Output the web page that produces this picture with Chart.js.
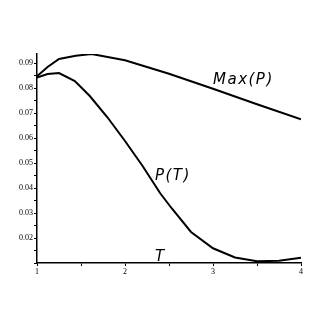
<!DOCTYPE html>
<html><head><meta charset="utf-8">
<script src="https://cdn.jsdelivr.net/npm/chart.js@4/dist/chart.umd.min.js"></script>
<style>html,body{margin:0;padding:0;background:#fff;}canvas{display:block;}</style>
</head><body>
<canvas id="c" width="327" height="327"></canvas>
<script>
const maxT = [1.0, 1.12, 1.25, 1.44, 1.62, 2.0, 2.5, 3.0, 3.5, 4.0];
const maxP = [0.0847, 0.0884, 0.0916, 0.0929, 0.0936, 0.0911, 0.0857, 0.0797, 0.0735, 0.0675];
const pT = [1.0, 1.12, 1.25, 1.43, 1.6, 1.8, 2.0, 2.2, 2.4, 2.53, 2.75, 3.0, 3.25, 3.5, 3.75, 4.0];
const pP = [0.0842, 0.0856, 0.0860, 0.0828, 0.0768, 0.0683, 0.0588, 0.0488, 0.0379, 0.0319, 0.0224, 0.0159, 0.0122, 0.0107, 0.0109, 0.0121];
const labels = [
  {text: 'Max(P)', x: 3.0, y: 0.0832},
  {text: 'P(T)', x: 2.34, y: 0.0448},
  {text: 'T', x: 2.34, y: 0.0123}
];
const xTickLabels = ['1', '2', '3', '4'];
const yTickLabels = ['0.02', '0.03', '0.04', '0.05', '0.06', '0.07', '0.08', '0.09'];

const toPts = (xs, ys) => xs.map((x, i) => ({x: x, y: ys[i]}));

const labelPlugin = {
  id: 'labels',
  afterDatasetsDraw(chart) {
    const ctx = chart.ctx;
    const xs = chart.scales.x, ys = chart.scales.y;
    ctx.save();
    ctx.fillStyle = '#000';
    ctx.font = 'italic 15px "DejaVu Sans"';
    ctx.textBaseline = 'middle';
    ctx.textAlign = 'left';
    try { ctx.letterSpacing = '1.5px'; } catch (e) {}
    labels.forEach(l => ctx.fillText(l.text, xs.getPixelForValue(l.x), ys.getPixelForValue(l.y)));
    ctx.restore();
  }
};

new Chart(document.getElementById('c'), {
  type: 'line',
  data: {
    datasets: [
      {data: toPts(maxT, maxP), borderColor: '#000', borderWidth: 2, pointRadius: 0, tension: 0, fill: false},
      {data: toPts(pT, pP), borderColor: '#000', borderWidth: 2, pointRadius: 0, tension: 0, fill: false}
    ]
  },
  options: {
    responsive: false,
    animation: false,
    layout: {padding: {left: 0, top: 54, right: 26, bottom: 49}},
    plugins: {legend: {display: false}, tooltip: {enabled: false}},
    scales: {
      x: {
        type: 'linear', min: 1, max: 4,
        afterFit(s) { s.height = 15; },
        border: {display: true, color: '#000', width: 1.5},
        grid: {drawOnChartArea: false, drawTicks: true, tickLength: 3, color: '#000'},
        ticks: {
          stepSize: 0.5, autoSkip: false, maxRotation: 0, padding: 1,
          color: '#000', font: {family: '"Liberation Serif"', size: 8},
          callback: v => Number.isInteger(v) ? xTickLabels[v - 1] : ''
        }
      },
      y: {
        type: 'linear', min: 0.01, max: 0.0936,
        afterFit(s) { s.width = 37; },
        afterBuildTicks(s) {
          const t = [];
          for (let i = 2; i <= 18; i++) t.push({value: i * 0.005});
          s.ticks = t;
        },
        border: {display: true, color: '#000', width: 1.5},
        grid: {drawOnChartArea: false, drawTicks: true, tickLength: 3, color: '#000'},
        ticks: {
          autoSkip: false, padding: 1,
          color: '#000', font: {family: '"Liberation Serif"', size: 8},
          callback: (v) => {
            const k = Math.round(v * 200);
            if (k % 2 === 0 && k >= 4) return yTickLabels[k / 2 - 2];
            return '';
          }
        }
      }
    }
  },
  plugins: [labelPlugin]
});
</script>
</body></html>
